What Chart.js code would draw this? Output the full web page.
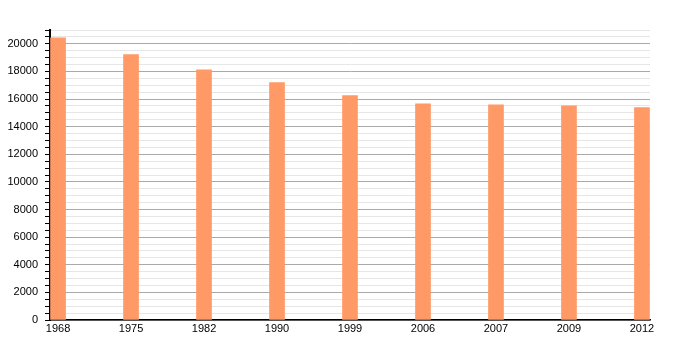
<!DOCTYPE html>
<html lang="fr">
  <head>
    <meta charset="utf-8">
    <title>Population</title>
    <script src="https://cdn.jsdelivr.net/npm/chart.js@4.4.0/dist/chart.umd.min.js"></script>
    <style>
      html, body { margin: 0; padding: 0; background: #fff; }
      #wrap { width: 700px; height: 350px; }
    </style>
  </head>
  <body>
    <div id="wrap"><canvas id="popChart" width="700" height="350"></canvas></div>
    <script>
        // années du recensement et population
        var years = ['1968', '1975', '1982', '1990', '1999', '2006', '2007', '2009', '2012'];
        var population = [20430, 19225, 18120, 17200, 16255, 15650, 15580, 15505, 15385];
        var yLabelStep = 2000;

        var points = population.map(function (v, i) { return {x: i, y: v}; });

        Chart.defaults.font.family = '"Liberation Sans", Arial, sans-serif';
        Chart.defaults.font.size = 11;
        Chart.defaults.color = '#000';

        var ctx = document.getElementById('popChart').getContext('2d');
        var chart = new Chart(ctx, {
            type: 'bar',
            data: {
                datasets: [{
                    data: points,
                    backgroundColor: '#ff9966',
                    borderWidth: 0,
                    barThickness: 15
                }]
            },
            options: {
                responsive: false,
                animation: false,
                layout: { padding: { top: 30, right: 50, left: 0, bottom: 0 } },
                plugins: { legend: { display: false }, tooltip: { enabled: false } },
                scales: {
                    x: {
                        type: 'linear',
                        offset: false,
                        min: -0.11,
                        max: 8.11,
                        grid: { display: false, drawTicks: false, offset: false },
                        border: { color: '#000', width: 1.5 },
                        ticks: {
                            stepSize: 1,
                            includeBounds: false,
                            padding: 2,
                            maxRotation: 0,
                            autoSkip: false,
                            callback: function (value) {
                                return Number.isInteger(value) ? years[value] : '';
                            }
                        },
                        afterFit: function (scale) { scale.height = 30; }
                    },
                    y: {
                        min: 0,
                        max: 21000,
                        grid: {
                            color: function (c) {
                                return c.tick && c.tick.value % yLabelStep === 0 ? '#a9a9a9' : '#e6e6e6';
                            },
                            tickColor: '#000',
                            tickLength: 5
                        },
                        border: { color: '#000', width: 2 },
                        ticks: {
                            stepSize: 500,
                            autoSkip: false,
                            padding: 7,
                            callback: function (value) {
                                return value % yLabelStep === 0 ? String(value) : '';
                            }
                        },
                        afterFit: function (scale) { scale.width = 50; }
                    }
                }
            }
        });
    </script>
  </body>
</html>
